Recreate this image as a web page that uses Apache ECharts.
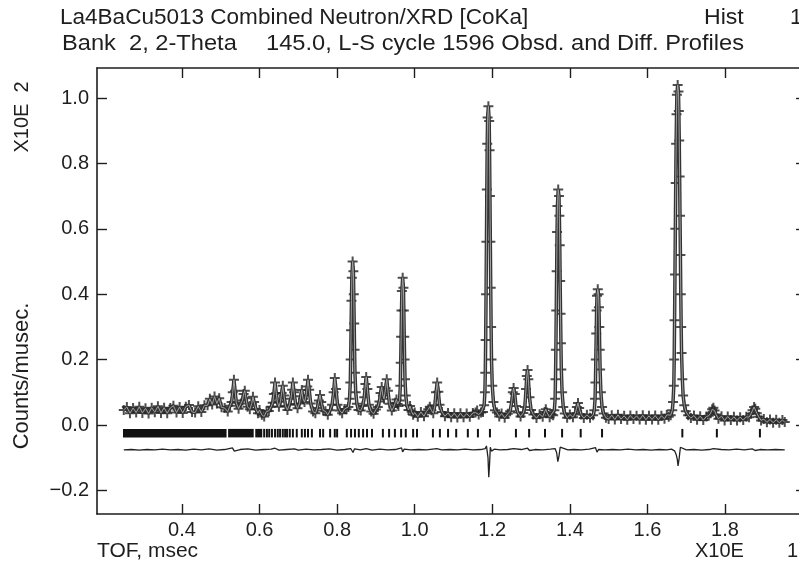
<!DOCTYPE html>
<html>
<head>
<meta charset="utf-8">
<script src="https://cdn.jsdelivr.net/npm/echarts@6/dist/echarts.min.js"></script>
<style>
html, body { margin: 0; padding: 0; background: #fff; overflow: hidden; }
#chart { width: 799px; height: 562px; }
</style>
</head>
<body>
<div id="chart"></div>
<script>
// tick labels
var xTicks = [0.4, 0.6, 0.8, 1.0, 1.2, 1.4, 1.6, 1.8];
var yTicks = [-0.2, 0.0, 0.2, 0.4, 0.6, 0.8, 1.0];

var obsA = [
  [0.250,0.046],[0.258,0.055],[0.266,0.036],[0.274,0.052],[0.282,0.038],[0.290,0.056],[0.298,0.037],[0.306,0.051],[0.314,0.035],[0.322,0.053],
  [0.330,0.039],[0.338,0.057],[0.346,0.037],[0.354,0.053],[0.362,0.036],[0.370,0.052],[0.378,0.059],[0.386,0.038],[0.394,0.055],[0.402,0.037],
  [0.410,0.056],[0.418,0.061],[0.426,0.040],[0.434,0.038],[0.442,0.057],[0.450,0.040],[0.458,0.060],[0.466,0.060],[0.472,0.080],[0.478,0.063],
  [0.484,0.087],[0.490,0.066],[0.496,0.082],[0.502,0.054],[0.510,0.052],[0.518,0.041],[0.524,0.059],[0.528,0.070],[0.531,0.100],[0.534,0.138],
  [0.537,0.105],[0.540,0.068],[0.546,0.050],[0.552,0.066],[0.556,0.075],[0.559,0.095],[0.562,0.105],[0.565,0.082],[0.569,0.056],[0.575,0.048],
  [0.580,0.066],[0.583,0.086],[0.586,0.070],[0.591,0.048],[0.596,0.036]
];
var obsB = [
  [0.600,0.046],[0.606,0.031],[0.612,0.026],[0.618,0.042],[0.624,0.043],[0.630,0.056],[0.634,0.068],[0.637,0.095],[0.640,0.130],[0.643,0.098],
  [0.646,0.070],[0.650,0.056],[0.654,0.072],[0.657,0.098],[0.660,0.120],[0.663,0.090],[0.667,0.058],[0.672,0.046],[0.677,0.062],[0.681,0.080],
  [0.684,0.108],[0.686,0.130],[0.689,0.100],[0.693,0.064],[0.698,0.051],[0.703,0.066],[0.706,0.088],[0.709,0.107],[0.712,0.080],[0.716,0.070],
  [0.720,0.090],[0.723,0.118],[0.725,0.138],[0.728,0.108],[0.732,0.066],[0.738,0.041],[0.744,0.036],[0.749,0.052],[0.753,0.075],[0.756,0.092],
  [0.759,0.070],[0.764,0.044],[0.770,0.042],[0.776,0.031],[0.782,0.045],[0.787,0.062],[0.791,0.100],[0.794,0.144],[0.797,0.110],[0.801,0.062],
  [0.807,0.044],[0.813,0.036],[0.819,0.049],[0.824,0.048],
  [0.829,0.055],[0.832,0.080],[0.834,0.130],[0.835,0.200],[0.836,0.290],[0.837,0.380],[0.838,0.450],[0.840,0.500],[0.842,0.470],[0.843,0.400],
  [0.844,0.310],[0.845,0.230],[0.846,0.160],[0.848,0.100],[0.851,0.065],[0.855,0.046],
  [0.861,0.044],[0.866,0.058],[0.870,0.085],[0.873,0.125],[0.875,0.147],[0.878,0.110],[0.882,0.062],[0.888,0.041],[0.894,0.034],[0.900,0.047],
  [0.905,0.055],[0.909,0.072],[0.912,0.098],[0.915,0.116],[0.918,0.090],[0.921,0.080],[0.925,0.112],[0.928,0.140],[0.931,0.105],[0.935,0.065],
  [0.941,0.044],[0.946,0.055],[0.950,0.068],[0.953,0.078],[0.956,0.064],
  [0.958,0.058],[0.961,0.075],[0.963,0.120],[0.964,0.190],[0.965,0.270],[0.966,0.350],[0.967,0.410],[0.969,0.450],[0.971,0.420],[0.972,0.350],
  [0.973,0.270],[0.974,0.200],[0.975,0.140],[0.977,0.090],[0.980,0.060],[0.984,0.046],[0.988,0.058],[0.992,0.041],[0.996,0.031]
];
var obsC = [
  [1.000,0.038],[1.008,0.025],[1.016,0.040],[1.024,0.027],[1.030,0.041],[1.035,0.048],[1.039,0.056],[1.043,0.045],[1.048,0.036],[1.052,0.060],
  [1.055,0.100],[1.058,0.130],[1.061,0.102],[1.064,0.062],[1.070,0.040],[1.078,0.027],[1.086,0.037],[1.094,0.024],[1.102,0.036],[1.110,0.023],
  [1.118,0.036],[1.126,0.024],[1.134,0.035],[1.142,0.025],[1.150,0.037],[1.157,0.038],[1.161,0.044],[1.165,0.032],[1.171,0.038],
  [1.176,0.040],[1.179,0.060],[1.181,0.100],[1.182,0.160],[1.183,0.260],[1.184,0.400],[1.185,0.560],[1.186,0.720],[1.187,0.860],[1.188,0.940],
  [1.190,0.975],[1.192,0.930],[1.193,0.840],[1.194,0.700],[1.195,0.560],[1.196,0.420],[1.197,0.300],[1.198,0.200],[1.200,0.120],[1.203,0.070],
  [1.207,0.045],[1.212,0.038],[1.218,0.026],[1.224,0.035],[1.232,0.022],[1.240,0.034],[1.246,0.042],[1.250,0.070],[1.253,0.100],[1.255,0.113],
  [1.258,0.095],[1.261,0.058],[1.266,0.038],[1.273,0.026],[1.280,0.037],[1.284,0.055],[1.287,0.110],[1.289,0.150],[1.291,0.168],[1.293,0.140],
  [1.296,0.085],[1.300,0.046],[1.306,0.032],[1.314,0.021],[1.322,0.033],[1.330,0.025],[1.335,0.040],[1.338,0.048],[1.341,0.038],[1.348,0.024],
  [1.353,0.033],
  [1.357,0.030],[1.360,0.045],[1.362,0.080],[1.363,0.140],[1.364,0.230],[1.365,0.350],[1.366,0.470],[1.367,0.590],[1.368,0.670],[1.370,0.720],
  [1.372,0.700],[1.373,0.640],[1.374,0.550],[1.375,0.440],[1.376,0.340],[1.377,0.250],[1.378,0.170],[1.380,0.100],[1.383,0.055],[1.387,0.035],
  [1.393,0.022],[1.400,0.032],[1.408,0.024],[1.414,0.036],[1.418,0.055],[1.421,0.067],[1.424,0.052],[1.429,0.032],[1.436,0.021],[1.444,0.031],
  [1.452,0.022],
  [1.460,0.030],[1.463,0.045],[1.465,0.080],[1.466,0.130],[1.467,0.200],[1.468,0.280],[1.469,0.350],[1.470,0.395],[1.472,0.415],[1.474,0.400],
  [1.475,0.360],[1.476,0.300],[1.477,0.230],[1.478,0.170],[1.480,0.100],[1.483,0.055],[1.487,0.035],[1.493,0.022]
];
var obsD = [
  [1.500,0.018],[1.508,0.030],[1.516,0.017],[1.524,0.031],[1.532,0.018],[1.540,0.028],[1.548,0.016],[1.556,0.029],[1.564,0.018],[1.572,0.028],
  [1.580,0.017],[1.588,0.030],[1.596,0.016],[1.604,0.028],[1.612,0.017],[1.620,0.029],[1.628,0.016],[1.636,0.028],[1.644,0.019],[1.650,0.031],
  [1.655,0.025],
  [1.660,0.030],[1.664,0.045],[1.666,0.070],[1.668,0.120],[1.669,0.200],[1.670,0.320],[1.671,0.460],[1.672,0.600],[1.673,0.740],[1.674,0.860],
  [1.675,0.950],[1.676,1.010],[1.678,1.040],[1.680,1.020],[1.681,0.960],[1.682,0.870],[1.683,0.760],[1.684,0.640],[1.685,0.520],[1.686,0.400],
  [1.687,0.300],[1.688,0.220],[1.690,0.140],[1.692,0.090],[1.695,0.060],[1.699,0.042],[1.705,0.030],
  [1.712,0.021],[1.720,0.029],[1.728,0.016],[1.736,0.027],[1.744,0.015],[1.752,0.026],[1.758,0.028],[1.763,0.036],[1.767,0.048],[1.770,0.053],
  [1.773,0.044],[1.777,0.032],[1.783,0.019],[1.791,0.027],[1.799,0.014],[1.807,0.026],[1.815,0.015],[1.823,0.025],[1.831,0.014],[1.839,0.024],
  [1.847,0.015],[1.855,0.025],[1.862,0.024],[1.867,0.034],[1.871,0.045],[1.875,0.055],[1.878,0.050],[1.882,0.036],[1.887,0.025],[1.893,0.014],
  [1.900,0.018],[1.908,0.008],[1.916,0.017],[1.924,0.007],[1.932,0.016],[1.940,0.007],[1.948,0.015],[1.954,0.009]
];

// difference (obs - calc), drawn offset below the profile
var diff = [
  [0.250,-0.076],[0.270,-0.075],[0.290,-0.077],[0.310,-0.075],[0.330,-0.076],[0.350,-0.074],[0.370,-0.076],[0.390,-0.075],[0.410,-0.077],[0.430,-0.074],
  [0.450,-0.076],[0.470,-0.073],[0.490,-0.077],[0.510,-0.075],[0.530,-0.070],[0.535,-0.080],[0.550,-0.075],[0.570,-0.073],[0.590,-0.077],[0.610,-0.075],
  [0.630,-0.074],[0.640,-0.071],[0.650,-0.077],[0.670,-0.075],[0.690,-0.073],[0.700,-0.077],[0.720,-0.074],[0.740,-0.076],[0.760,-0.075],[0.780,-0.073],
  [0.800,-0.077],[0.820,-0.075],[0.835,-0.072],[0.838,-0.066],[0.841,-0.084],[0.845,-0.073],[0.860,-0.076],[0.875,-0.072],[0.890,-0.077],[0.910,-0.074],
  [0.930,-0.076],[0.950,-0.075],[0.966,-0.070],[0.969,-0.082],[0.973,-0.074],[0.990,-0.076],[1.010,-0.075],[1.030,-0.076],[1.057,-0.072],[1.070,-0.076],
  [1.090,-0.075],[1.110,-0.076],[1.130,-0.074],[1.150,-0.076],[1.170,-0.075],[1.182,-0.072],[1.185,-0.064],[1.187,-0.058],[1.189,-0.100],[1.191,-0.160],
  [1.193,-0.120],[1.195,-0.068],[1.198,-0.080],[1.205,-0.074],[1.220,-0.076],[1.240,-0.075],[1.255,-0.072],[1.260,-0.078],[1.275,-0.075],[1.291,-0.071],
  [1.296,-0.078],[1.310,-0.075],[1.330,-0.076],[1.350,-0.074],[1.362,-0.072],[1.366,-0.085],[1.369,-0.112],[1.372,-0.095],[1.375,-0.068],[1.380,-0.073],
  [1.395,-0.076],[1.410,-0.075],[1.430,-0.076],[1.450,-0.074],[1.466,-0.069],[1.470,-0.083],[1.474,-0.075],[1.490,-0.076],[1.510,-0.075],[1.530,-0.076],
  [1.550,-0.074],[1.570,-0.076],[1.590,-0.075],[1.610,-0.077],[1.630,-0.075],[1.650,-0.076],[1.662,-0.074],[1.670,-0.079],[1.674,-0.090],[1.677,-0.105],
  [1.679,-0.125],[1.682,-0.100],[1.685,-0.068],[1.690,-0.072],[1.700,-0.076],[1.720,-0.075],[1.740,-0.077],[1.760,-0.075],[1.770,-0.072],[1.775,-0.078],
  [1.790,-0.075],[1.810,-0.076],[1.830,-0.074],[1.850,-0.076],[1.870,-0.073],[1.878,-0.078],[1.890,-0.075],[1.910,-0.076],[1.930,-0.075],[1.954,-0.076]
];

// reflection positions: solid runs where ticks merge, then single ticks
var refBlocks = [[0.248, 0.515], [0.519, 0.585], [0.589, 0.607]];
var refTicks = [
  0.612, 0.619, 0.625, 0.632, 0.640, 0.647, 0.653, 0.660, 0.666, 0.671, 0.678, 0.686, 0.696, 0.709, 0.717, 0.725, 0.735,
  0.756, 0.764, 0.782, 0.794, 0.800, 0.825, 0.836, 0.846, 0.856, 0.867, 0.877, 0.890, 0.918, 0.934, 0.949, 0.965, 0.977,
  0.996, 1.006, 1.047, 1.065, 1.086, 1.107, 1.137, 1.163, 1.194, 1.261, 1.295, 1.336, 1.380, 1.428, 1.483, 1.690, 1.779, 1.890
];
var refLevel = [-0.012, -0.038];

var obs = obsA.concat(obsB, obsC, obsD);
var refData = refBlocks.concat(refTicks.map(function (t) { return [t, t]; }));

var chart = echarts.init(document.getElementById('chart'));
var font = '"Liberation Sans", Arial, sans-serif';
var ink = '#1e1e1e';
var plus = 'path://M0,4H10V6H0Z M4,0H6V10H4Z';

function txt(x, y, s, opt) {
  opt = opt || {};
  return {
    type: 'text', x: x, y: y, rotation: opt.rot || 0, scaleX: opt.sx || 1, silent: true,
    style: {
      text: s, fill: ink, font: (opt.size || 22) + 'px ' + font,
      align: opt.align || 'left', verticalAlign: 'middle'
    }
  };
}

var xMin = 0.181, xMax = 2.0088, yMin = -0.2722, yMax = 1.0917;
var frame = { show: true, onZero: false, lineStyle: { color: ink, width: 1.6 } };

var option = {
  animation: false,
  backgroundColor: '#fff',
  grid: { left: 97, top: 68, width: 709, height: 446, outerBoundsMode: 'none', containLabel: false },
  xAxis: [
    {
      type: 'value', position: 'bottom', min: xMin, max: xMax,
      axisLine: frame,
      axisTick: { inside: true, length: 10, customValues: xTicks, lineStyle: { color: ink, width: 1.4 } },
      axisLabel: {
        customValues: xTicks, margin: 6, color: ink, fontSize: 20, fontFamily: font,
        formatter: function (v) { return v.toFixed(1); }
      },
      splitLine: { show: false }
    },
    {
      type: 'value', position: 'top', min: xMin, max: xMax,
      axisLine: frame,
      axisTick: { inside: true, length: 10, customValues: xTicks, lineStyle: { color: ink, width: 1.4 } },
      axisLabel: { show: false },
      splitLine: { show: false }
    }
  ],
  yAxis: [
    {
      type: 'value', position: 'left', min: yMin, max: yMax,
      axisLine: frame,
      axisTick: { inside: true, length: 10, customValues: yTicks, lineStyle: { color: ink, width: 1.4 } },
      axisLabel: {
        customValues: yTicks, margin: 8, color: ink, fontSize: 20, fontFamily: font,
        formatter: function (v) { return (v < -1e-9 ? '\u2212' : '') + Math.abs(v).toFixed(1); }
      },
      splitLine: { show: false }
    },
    {
      type: 'value', position: 'right', min: yMin, max: yMax,
      axisLine: frame,
      axisTick: { inside: true, length: 10, customValues: yTicks, lineStyle: { color: ink, width: 1.4 } },
      axisLabel: { show: false },
      splitLine: { show: false }
    }
  ],
  graphic: [
    txt(60, 18, 'La4BaCu5013 Combined Neutron/XRD [CoKa]', { sx: 1.024 }),
    txt(704, 18, 'Hist', { sx: 1.05 }),
    txt(790, 18, '1'),
    txt(62, 44, 'Bank  2, 2-Theta', { sx: 1.075 }),
    txt(266, 44, '145.0, L-S cycle 1596 Obsd. and Diff. Profiles', { sx: 1.075 }),
    txt(97, 551, 'TOF, msec', { size: 20, sx: 1.05 }),
    txt(695, 551, 'X10E', { size: 20 }),
    txt(787, 551, '1', { size: 20 }),
    txt(22, 117, 'X10E  2', { rot: Math.PI / 2, align: 'center', size: 20 }),
    txt(22, 376, 'Counts/musec.', { rot: Math.PI / 2, align: 'center', size: 22 })
  ],
  series: [
    {
      name: 'Reflections', type: 'custom', data: refData, encode: { x: [0, 1] }, silent: true,
      renderItem: function (params, api) {
        var a = api.coord([api.value(0), refLevel[0]]);
        var b = api.coord([api.value(1), refLevel[1]]);
        var w = b[0] - a[0];
        var x = w < 2 ? a[0] - 1 : a[0];
        return { type: 'rect', shape: { x: x, y: a[1], width: Math.max(w, 2), height: b[1] - a[1] }, style: { fill: '#111' } };
      }
    },
    {
      name: 'Diff', type: 'line', data: diff, showSymbol: false, silent: true,
      lineStyle: { color: '#222', width: 1.3 }
    },
    {
      name: 'Calc outline', type: 'line', data: obs, showSymbol: false, silent: true,
      lineStyle: { color: '#333', width: 3.5 }
    },
    {
      name: 'Obsd', type: 'scatter', data: obs, symbol: plus, symbolSize: [10, 10], silent: true,
      itemStyle: { color: '#222' }
    },
    {
      name: 'Calc', type: 'line', data: obs, showSymbol: false, silent: true,
      lineStyle: { color: '#a0a0a0', width: 1 }
    }
  ]
};
chart.setOption(option);
</script>
</body>
</html>
